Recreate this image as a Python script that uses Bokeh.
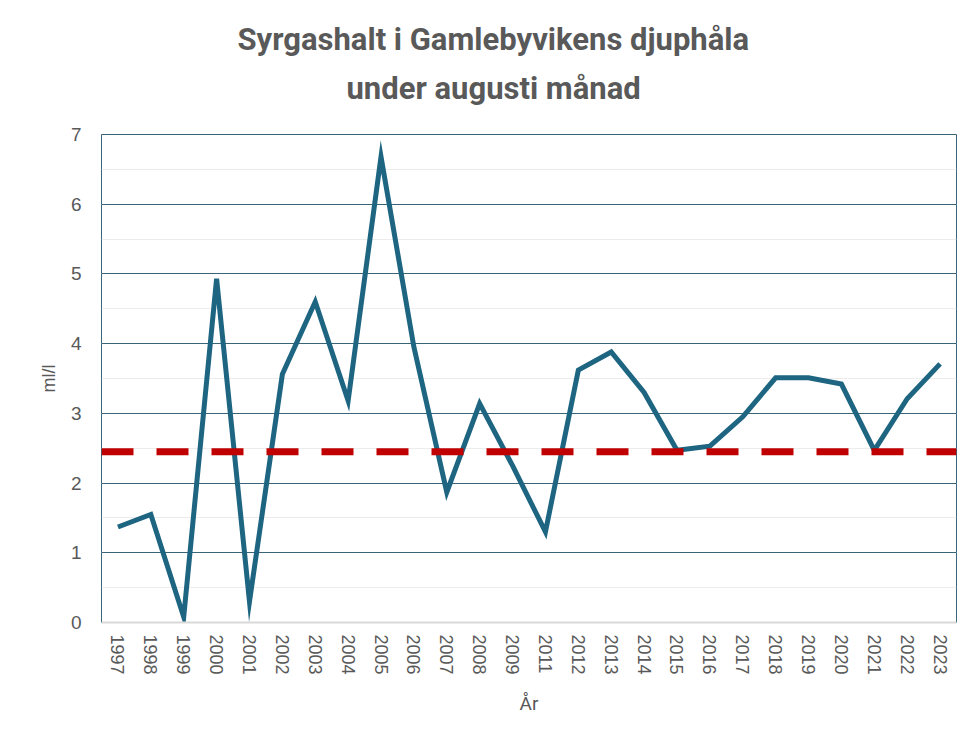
from bokeh.plotting import figure
from bokeh.models import FactorRange, Range1d, SingleIntervalTicker, Title, Span
from bokeh.embed import file_html
from bokeh.resources import INLINE

years = ["1997", "1998", "1999", "2000", "2001", "2002", "2003", "2004", "2005",
         "2006", "2007", "2008", "2009", "2011", "2012", "2013", "2014", "2015",
         "2016", "2017", "2018", "2019", "2020", "2021", "2022", "2023"]
oxygen = [1.37, 1.55, 0.08, 4.93, 0.30, 3.56, 4.60, 3.18, 6.68,
          3.95, 1.87, 3.14, 2.25, 1.30, 3.62, 3.88, 3.30, 2.47,
          2.53, 2.95, 3.51, 3.51, 3.42, 2.47, 3.21, 3.71]
threshold = 2.45

title_line1 = "Syrgashalt i Gamlebyvikens djuphåla"
title_line2 = "under augusti månad"
x_label = "År"
y_label = "ml/l"

GRID_DARK = "#3A6478"
TEXT = "#595959"

p = figure(
    x_range=FactorRange(*years, range_padding=0),
    y_range=Range1d(0, 7),
    frame_width=855, frame_height=488,
    min_border_left=101, min_border_right=4, min_border_top=134, min_border_bottom=105,
    output_backend="svg", toolbar_location=None,
    background_fill_color="white", border_fill_color="white",
)

p.add_layout(Title(text=title_line2, align="left", offset=245, text_font="Roboto",
                   text_font_size="31px", text_font_style="bold", text_color=TEXT,
                   standoff=55), "above")
p.add_layout(Title(text=title_line1, align="left", offset=136, text_font="Roboto",
                   text_font_size="31px", text_font_style="bold", text_color=TEXT,
                   standoff=-35), "above")

p.outline_line_color = GRID_DARK
p.outline_line_width = 1

p.yaxis.ticker = SingleIntervalTicker(interval=1, num_minor_ticks=2)
p.ygrid.grid_line_color = GRID_DARK
p.ygrid.grid_line_width = 1
p.ygrid.minor_grid_line_color = "#ECECEC"
p.xgrid.grid_line_color = None

p.yaxis.axis_line_color = None
p.yaxis.major_tick_line_color = None
p.yaxis.minor_tick_line_color = None
p.yaxis.major_label_text_font = "Liberation Sans"
p.yaxis.major_label_text_font_size = "19px"
p.yaxis.major_label_text_color = TEXT
p.yaxis.major_label_standoff = 14
p.yaxis.axis_label = y_label
p.yaxis.axis_label_text_font = "Liberation Sans"
p.yaxis.axis_label_text_font_size = "18px"
p.yaxis.axis_label_text_font_style = "normal"
p.yaxis.axis_label_text_color = TEXT
p.yaxis.axis_label_standoff = 9

p.xaxis.axis_line_color = "#D9D9D9"
p.xaxis.axis_line_width = 2
p.xaxis.major_tick_line_color = None
p.xaxis.minor_tick_line_color = None
p.xaxis.major_label_orientation = "vertical"
p.xaxis.major_label_text_font = "Liberation Sans"
p.xaxis.major_label_text_font_size = "18px"
p.xaxis.major_label_text_color = TEXT
p.xaxis.major_label_standoff = 6
p.xaxis.axis_label = x_label
p.xaxis.axis_label_text_font = "Roboto"
p.xaxis.axis_label_text_font_size = "19px"
p.xaxis.axis_label_text_font_style = "normal"
p.xaxis.axis_label_text_color = TEXT
p.xaxis.axis_label_standoff = 14

p.line(x=years, y=oxygen, line_color="#1E6582", line_width=5, line_join="miter")

p.add_layout(Span(location=threshold, dimension="width", line_color="#C00000",
                  line_width=7, line_dash="32 23"))

open("out.html", "w").write(file_html(p, INLINE))
